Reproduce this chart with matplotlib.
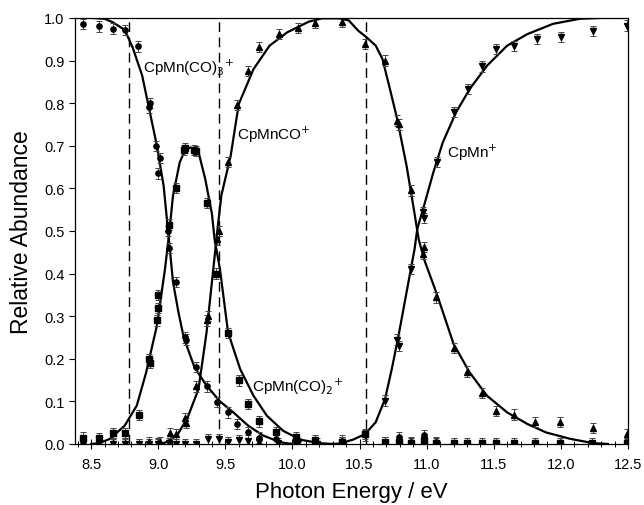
import numpy as np
import matplotlib
matplotlib.use("Agg")
import matplotlib.pyplot as plt
from matplotlib.ticker import MultipleLocator

plt.rcParams['font.family'] = ['Liberation Sans', 'DejaVu Sans']

co3_x = [8.44, 8.56, 8.66, 8.75, 8.85, 8.93, 8.94, 8.98, 9.0, 9.01, 9.07, 9.08, 9.13, 9.2, 9.21,
         9.28, 9.36, 9.44, 9.52, 9.59, 9.67, 9.75, 9.88, 10.03, 10.17, 10.37, 10.69, 10.79, 10.88,
         10.98, 11.07]
co3_y = [0.985, 0.98, 0.975, 0.972, 0.933, 0.79, 0.80, 0.70, 0.635, 0.672, 0.50, 0.46, 0.38, 0.25,
         0.245, 0.18, 0.135, 0.098, 0.074, 0.047, 0.027, 0.015, 0.012, 0.006, 0.002, 0.008, 0.004,
         0.016, 0.004, 0.02, 0.004]

co2_x = [8.44, 8.56, 8.66, 8.75, 8.86, 8.93, 8.935, 8.99, 9.0, 9.0, 9.08, 9.13, 9.19, 9.2, 9.27,
         9.28, 9.36, 9.43, 9.52, 9.6, 9.67, 9.75, 9.88, 10.03, 10.17, 10.37, 10.54, 10.69, 10.79,
         10.88, 10.98, 11.07, 11.2, 11.3, 11.41, 11.52, 11.65, 11.81, 11.99, 12.23, 12.49]
co2_y = [0.015, 0.013, 0.025, 0.025, 0.068, 0.20, 0.19, 0.29, 0.32, 0.35, 0.515, 0.60, 0.69, 0.695,
         0.69, 0.688, 0.565, 0.40, 0.26, 0.149, 0.093, 0.053, 0.027, 0.016, 0.01, 0.004, 0.023,
         0.004, 0.004, 0.003, 0.01, 0.003, 0.002, 0.002, 0.002, 0.002, 0.002, 0.002, 0.002,
         0.002, 0.002]

co1_x = [8.44, 8.56, 8.66, 8.75, 8.86, 8.93, 9.0, 9.01, 9.09, 9.13, 9.2, 9.21, 9.28, 9.36, 9.37,
         9.44, 9.45, 9.52, 9.59, 9.67, 9.75, 9.9, 10.04, 10.17, 10.37, 10.54, 10.69, 10.78, 10.79,
         10.88, 10.97, 10.98, 11.07, 11.2, 11.3, 11.41, 11.52, 11.65, 11.81, 11.99, 12.24, 12.49]
co1_y = [0.0, 0.0, 0.002, 0.003, 0.0, 0.004, 0.003, 0.005, 0.026, 0.024, 0.06, 0.05, 0.135, 0.29,
         0.30, 0.48, 0.50, 0.661, 0.796, 0.876, 0.931, 0.962, 0.976, 0.988, 0.991, 0.939, 0.90,
         0.759, 0.75, 0.595, 0.446, 0.462, 0.344, 0.225, 0.17, 0.119, 0.078, 0.069, 0.052, 0.051,
         0.037, 0.023]

mn_x = [8.44, 8.56, 8.66, 8.75, 8.86, 8.93, 9.0, 9.08, 9.13, 9.2, 9.28, 9.37, 9.45, 9.52, 9.6,
        9.67, 9.75, 9.89, 10.04, 10.18, 10.37, 10.54, 10.69, 10.78, 10.79, 10.88, 10.97, 10.98,
        11.08, 11.2, 11.31, 11.41, 11.52, 11.65, 11.82, 12.0, 12.24, 12.49]
mn_y = [0.0, 0.0, 0.0, 0.0, 0.0, 0.0, 0.0, 0.002, 0.0, 0.0, 0.0, 0.012, 0.012, 0.005, 0.01,
        0.008, 0.004, 0.003, 0.002, 0.001, 0.005, 0.02, 0.102, 0.245, 0.23, 0.41, 0.545, 0.53,
        0.661, 0.78, 0.833, 0.886, 0.927, 0.935, 0.951, 0.955, 0.969, 0.982]

yerr = 0.012

# fitted breakdown curves
fit_co3_x = [8.38, 8.5, 8.6, 8.66, 8.75, 8.81, 8.88, 8.93, 8.99, 9.04, 9.07, 9.11, 9.15, 9.19,
             9.27, 9.36, 9.46, 9.56, 9.67, 9.78, 9.91, 10.0]
fit_co3_y = [1.0, 1.0, 0.998, 0.99, 0.972, 0.93, 0.865, 0.79, 0.70, 0.606, 0.51, 0.38, 0.31,
             0.25, 0.18, 0.137, 0.10, 0.074, 0.043, 0.02, 0.004, 0.0]

fit_co2_x = [8.5, 8.56, 8.64, 8.75, 8.84, 8.91, 8.99, 9.05, 9.08, 9.11, 9.16, 9.2, 9.24, 9.3,
             9.35, 9.4, 9.42, 9.46, 9.52, 9.61, 9.71, 9.81, 9.93, 10.06, 10.2, 10.3]
fit_co2_y = [0.0, 0.002, 0.012, 0.043, 0.09, 0.168, 0.278, 0.41, 0.49, 0.583, 0.661, 0.69, 0.696,
             0.685, 0.622, 0.54, 0.48, 0.41, 0.262, 0.176, 0.113, 0.066, 0.031, 0.01, 0.002, 0.0]

fit_co1_x = [9.0, 9.05, 9.14, 9.22, 9.3, 9.36, 9.41, 9.44, 9.47, 9.54, 9.6, 9.71, 9.83, 9.96,
             10.12, 10.22, 10.35, 10.42, 10.49, 10.55, 10.62, 10.67, 10.72, 10.78, 10.85, 10.9,
             10.94, 10.98, 11.08, 11.2, 11.32, 11.45, 11.6, 11.75, 11.89, 12.07, 12.24, 12.35]
fit_co1_y = [0.0, 0.003, 0.02, 0.063, 0.129, 0.262, 0.41, 0.5, 0.583, 0.677, 0.798, 0.88, 0.935,
             0.966, 0.991, 0.999, 0.999, 0.994, 0.97, 0.955, 0.935, 0.904, 0.841, 0.763, 0.653,
             0.559, 0.481, 0.434, 0.348, 0.235, 0.168, 0.113, 0.074, 0.047, 0.027, 0.012, 0.002,
             0.0]

fit_mn_x = [10.3, 10.35, 10.45, 10.54, 10.62, 10.69, 10.74, 10.79, 10.85, 10.91, 10.93, 10.98,
            11.05, 11.12, 11.22, 11.32, 11.45, 11.6, 11.75, 11.94, 12.14, 12.3, 12.5]
fit_mn_y = [0.0, 0.001, 0.01, 0.023, 0.051, 0.106, 0.176, 0.254, 0.356, 0.458, 0.505, 0.559,
            0.638, 0.708, 0.779, 0.833, 0.888, 0.935, 0.962, 0.986, 0.998, 1.0, 1.0]

onsets = [8.78, 9.45, 10.55]

fig = plt.figure(figsize=(6.44, 5.06), dpi=100)
ax = fig.add_axes([0.1165, 0.1206, 0.8587, 0.842])

for x0 in onsets:
    ax.plot([x0, x0], [0, 1.0], color='black', lw=1.0, dashes=(7, 4))

for fx, fy in [(fit_co3_x, fit_co3_y), (fit_co2_x, fit_co2_y), (fit_co1_x, fit_co1_y),
               (fit_mn_x, fit_mn_y)]:
    ax.plot(fx, fy, color='black', lw=1.6)

ekw = dict(ls='none', color='black', ecolor='#444444', elinewidth=0.7, capsize=2, capthick=0.7)
ax.errorbar(co3_x, co3_y, yerr=yerr, fmt='o', ms=3.8, **ekw)
ax.errorbar(co2_x, co2_y, yerr=yerr, fmt='s', ms=3.8, **ekw)
ax.errorbar(co1_x, co1_y, yerr=yerr, fmt='^', ms=4.0, **ekw)
ax.errorbar(mn_x, mn_y, yerr=yerr, fmt='v', ms=4.0, **ekw)

ax.text(8.89, 0.885, 'CpMn(CO)$_3$$^{+}$', fontsize=11, va='center')
ax.text(9.59, 0.728, 'CpMnCO$^{+}$', fontsize=11, va='center')
ax.text(9.7, 0.137, 'CpMn(CO)$_2$$^{+}$', fontsize=11, va='center')
ax.text(11.15, 0.685, 'CpMn$^{+}$', fontsize=11, va='center')

ax.set_xlim(8.38, 12.5)
ax.set_ylim(0, 1.0)
ax.xaxis.set_major_locator(MultipleLocator(0.5))
ax.xaxis.set_minor_locator(MultipleLocator(0.1))
ax.yaxis.set_major_locator(MultipleLocator(0.1))
ax.xaxis.set_major_formatter(matplotlib.ticker.FormatStrFormatter('%.1f'))
ax.yaxis.set_major_formatter(matplotlib.ticker.FormatStrFormatter('%.1f'))
ax.tick_params(axis='x', which='major', direction='inout', length=7, width=0.8, labelsize=10.5, pad=6)
ax.tick_params(axis='x', which='minor', direction='inout', length=4, width=0.7)
ax.tick_params(axis='y', which='major', direction='out', length=4, width=0.8, labelsize=10.5)
for s in ax.spines.values():
    s.set_linewidth(0.9)

ax.set_xlabel('Photon Energy / eV', fontsize=16, labelpad=7)
ax.set_ylabel('Relative Abundance', fontsize=16.5, labelpad=8)

fig.savefig('out.png', dpi=100)
